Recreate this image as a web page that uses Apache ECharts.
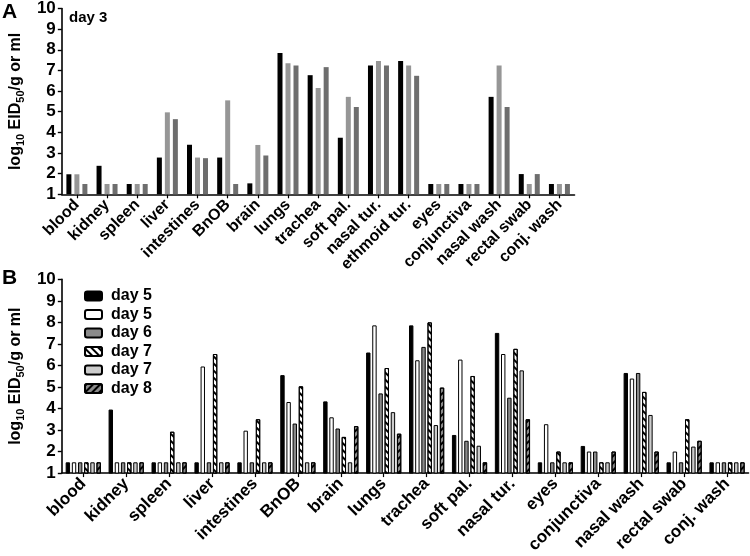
<!DOCTYPE html>
<html><head><meta charset="utf-8">
<script src="https://cdn.jsdelivr.net/npm/echarts@6/dist/echarts.min.js"></script>
<style>html,body{margin:0;padding:0;background:#fff}#c{width:750px;height:556px}</style>
</head><body><div id="c"></div>
<script>
var catsA = ['blood','kidney','spleen','liver','intestines','BnOB','brain','lungs','trachea','soft pal.','nasal tur.','ethmoid tur.','eyes','conjunctiva','nasal wash','rectal swab','conj. wash'];
var catsB = ['blood','kidney','spleen','liver','intestines','BnOB','brain','lungs','trachea','soft pal.','nasal tur.','eyes','conjunctiva','nasal wash','rectal swab','conj. wash'];
var yTicks = [1,2,3,4,5,6,7,8,9,10];

// Panel A (day 3), three animals
var a1 = [1.97,2.38,1.5,2.78,3.4,2.78,1.53,7.85,6.77,3.74,7.24,7.46,1.5,1.5,5.72,1.98,1.5];
var a2 = [1.97,1.5,1.5,4.97,2.78,5.55,3.39,7.35,6.15,5.72,7.46,7.24,1.5,1.5,7.24,1.5,1.5];
var a3 = [1.5,1.5,1.5,4.64,2.75,1.5,2.88,7.24,7.16,5.23,7.24,6.74,1.5,1.5,5.23,1.98,1.5];

// Panel B
var legendB = ['day 5','day 5 ','day 6','day 7','day 7 ','day 8'];
var b1 = [1.5,3.95,1.5,1.5,1.5,5.55,4.33,6.6,7.86,2.77,7.51,1.5,2.26,5.65,1.5,1.5];
var b2 = [1.5,1.5,1.5,5.95,2.97,4.3,3.59,7.86,6.24,6.27,6.53,3.27,2.0,5.39,2.0,1.5];
var b3 = [1.5,1.5,1.5,1.5,1.5,3.3,3.07,4.7,6.86,2.5,4.5,1.5,2.0,5.65,1.5,1.5];
var b4 = [1.5,1.5,2.92,6.53,3.5,5.03,2.68,5.88,8.0,5.51,6.77,2.0,1.5,4.77,3.5,1.5];
var b5 = [1.5,1.5,1.5,1.5,1.5,1.5,1.5,3.83,3.23,2.27,5.77,1.5,1.5,3.7,2.23,1.5];
var b6 = [1.5,1.5,1.5,1.5,1.5,1.5,3.18,2.83,4.97,1.5,3.5,1.5,2.0,2.0,2.5,1.5];

var FONT = 'Liberation Sans, Arial, sans-serif';
var chart = echarts.init(document.getElementById('c'), null, {renderer:'canvas'});

function yAxis(gi){
  return {
    type:'value', gridIndex:gi, min:1, max:10, interval:1,
    splitLine:{show:false},
    axisLine:{show:true, lineStyle:{color:'#000', width:1.6}},
    axisTick:{show:true, length:4, lineStyle:{color:'#000', width:1.4}},
    axisLabel:{color:'#000', fontFamily:FONT, fontWeight:'bold', fontSize:17, margin:6},
    name:'{a|log}{s|10}{a| EID}{s|50}{a|/g or ml}',
    nameLocation:'middle', nameRotate:90, nameGap:26,
    nameTextStyle:{rich:{
      a:{fontFamily:FONT, fontWeight:'bold', fontSize:16, lineHeight:16, verticalAlign:'top', color:'#000'},
      s:{fontFamily:FONT, fontWeight:'bold', fontSize:11, lineHeight:11, padding:[7,0,0,0], verticalAlign:'top', color:'#000'}
    }}
  };
}
function xAxis(gi, cats, fs, margin){
  return {
    type:'category', gridIndex:gi, data:cats, boundaryGap:true,
    axisLine:{show:true, lineStyle:{color:'#000', width:1.6}},
    axisTick:{show:true, alignWithLabel:true, length:4, lineStyle:{color:'#000', width:1.2}},
    axisLabel:{color:'#000', fontFamily:FONT, fontWeight:'bold', fontSize:fs, rotate:45, margin:margin, interval:0}
  };
}
var stripe = function(rot){
  return {symbol:'rect', color:'#000', dashArrayX:[1,0], dashArrayY:[2,2.2], rotation:rot};
};
function barA(data, color){
  return {type:'bar', xAxisIndex:0, yAxisIndex:0, data:data, barWidth:5, barGap:'60%',
    itemStyle:{color:color}, silent:true};
}
function barB(name, data, color, decal){
  var st = {color:color, borderColor:'#000', borderWidth:1};
  if (decal) st.decal = decal;
  return {type:'bar', name:name, xAxisIndex:1, yAxisIndex:1, data:data, barWidth:4.4, barGap:'40%',
    itemStyle:st, silent:true};
}

chart.setOption({
  animation:false,
  grid:[
    {left:57.5, top:7.3, width:517, height:187},
    {left:57.5, top:279.3, width:691, height:198}
  ],
  xAxis:[xAxis(0, catsA, 16, 8), xAxis(1, catsB, 17, 8)],
  yAxis:[yAxis(0), yAxis(1)],
  legend:{
    data:legendB, orient:'vertical', left:79, top:283, itemWidth:17, itemHeight:9, itemGap:2.5,
    textStyle:{color:'#000', fontFamily:FONT, fontWeight:'bold', fontSize:16, padding:[0,0,0,4]},
    selectedMode:false
  },
  series:[
    barA(a1,'#000000'), barA(a2,'#969696'), barA(a3,'#6e6e6e'),
    barB(legendB[0], b1, '#000000'),
    barB(legendB[1], b2, '#ffffff'),
    barB(legendB[2], b3, '#8a8a8a'),
    barB(legendB[3], b4, '#ffffff', stripe(Math.PI/4)),
    barB(legendB[4], b5, '#cccccc'),
    barB(legendB[5], b6, '#8a8a8a', stripe(-Math.PI/4))
  ],
  graphic:[
    {type:'text', left:2, top:2, style:{text:'A', font:'bold 21px '+FONT, fill:'#000'}},
    {type:'text', left:2, top:268, style:{text:'B', font:'bold 21px '+FONT, fill:'#000'}},
    {type:'text', left:69, top:10, style:{text:'day 3', font:'bold 15px '+FONT, fill:'#000'}}
  ]
});
</script>
</body></html>
